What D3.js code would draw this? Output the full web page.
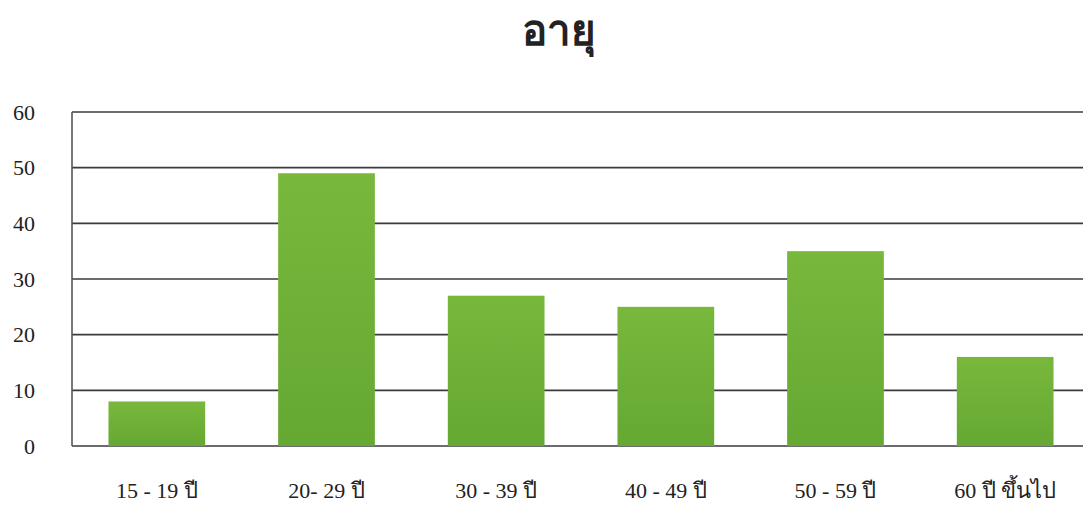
<!DOCTYPE html>
<html>
<head>
<meta charset="utf-8">
<script src="https://cdn.jsdelivr.net/npm/d3@7"></script>
<style>
  body { margin: 0; background: #fff; }
  svg { display: block; }
</style>
</head>
<body>
<svg width="1083" height="511"></svg>
<script>
const width = 1083;
const height = 511;

const title = "อายุ";
const categories = ["15 - 19 ปี", "20- 29 ปี", "30 - 39 ปี", "40 - 49 ปี", "50 - 59 ปี", "60 ปี ขึ้นไป"];
const values = [8, 49, 27, 25, 35, 16];
const yTicks = [0, 10, 20, 30, 40, 50, 60];

const margin = { top: 112, left: 72, bottom: 65 };
const plotRight = 1090;

const svg = d3.select("svg");

const x = d3.scaleBand()
    .domain(categories)
    .range([margin.left, plotRight])
    .paddingInner(0.43)
    .paddingOuter(0.215);

const y = d3.scaleLinear()
    .domain([0, 60])
    .range([height - margin.bottom, margin.top]);

const grad = svg.append("defs").append("linearGradient")
    .attr("id", "barFill")
    .attr("x1", 0).attr("y1", 0).attr("x2", 0).attr("y2", 1);
grad.append("stop").attr("offset", "0%").attr("stop-color", "#78b83c");
grad.append("stop").attr("offset", "100%").attr("stop-color", "#65a832");

// gridlines
svg.append("g")
    .selectAll("line")
    .data(yTicks)
    .join("line")
    .attr("x1", margin.left)
    .attr("x2", width)
    .attr("y1", d => y(d))
    .attr("y2", d => y(d))
    .attr("stroke", "#3a3a40")
    .attr("stroke-width", 1.6);

// left axis line
svg.append("line")
    .attr("x1", margin.left).attr("x2", margin.left)
    .attr("y1", y(60)).attr("y2", y(0))
    .attr("stroke", "#55555c")
    .attr("stroke-width", 1.6);

// y labels
svg.append("g")
    .selectAll("text")
    .data(yTicks)
    .join("text")
    .attr("x", 35)
    .attr("y", d => y(d))
    .attr("dy", "0.35em")
    .attr("text-anchor", "end")
    .attr("font-family", "'Liberation Serif', 'Times New Roman', serif")
    .attr("font-size", 22)
    .attr("fill", "#222")
    .text(d => d);

// bars
svg.append("g")
    .selectAll("rect")
    .data(values)
    .join("rect")
    .attr("x", (d, i) => x(categories[i]))
    .attr("y", d => y(d))
    .attr("width", x.bandwidth())
    .attr("height", d => y(0) - y(d))
    .attr("fill", "url(#barFill)");

// x labels
svg.append("g")
    .selectAll("text")
    .data(categories)
    .join("text")
    .attr("x", d => x(d) + x.bandwidth() / 2)
    .attr("y", 498)
    .attr("text-anchor", "middle")
    .attr("font-family", "'Liberation Serif', 'Times New Roman', serif")
    .attr("font-size", 22)
    .attr("fill", "#222")
    .text(d => d);

// title
svg.append("text")
    .attr("x", 559)
    .attr("y", 45)
    .attr("text-anchor", "middle")
    .attr("font-family", "'Noto Sans', 'DejaVu Sans', sans-serif")
    .attr("font-weight", "bold")
    .attr("font-size", 42)
    .attr("fill", "#222")
    .text(title);
</script>
</body>
</html>
